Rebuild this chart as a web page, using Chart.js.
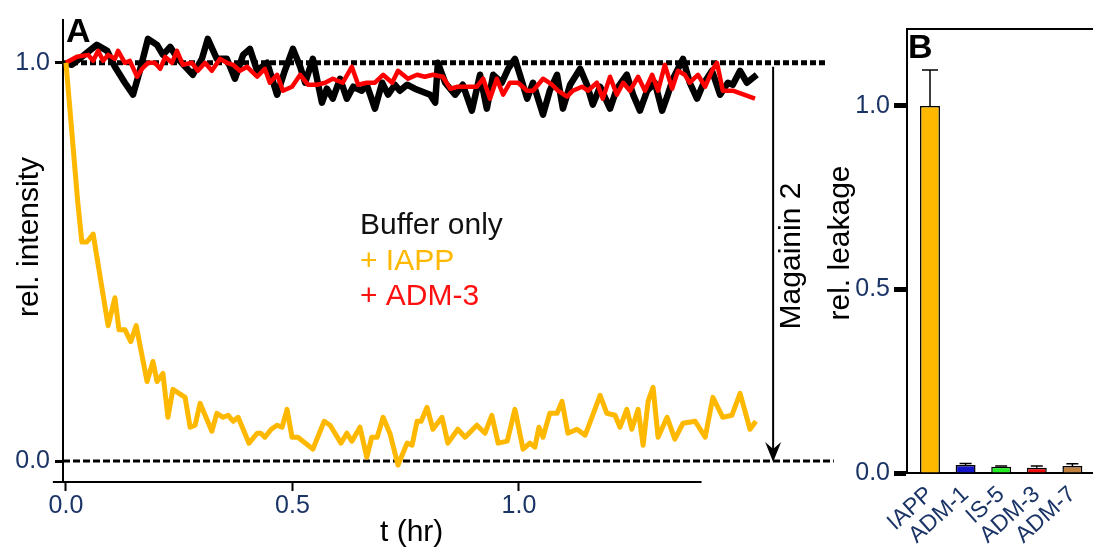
<!DOCTYPE html>
<html>
<head>
<meta charset="utf-8">
<script src="https://cdn.jsdelivr.net/npm/chart.js@4"></script>
<style>
  html, body { margin: 0; padding: 0; background: #fff; }
  #wrap { position: relative; width: 1093px; height: 548px; overflow: hidden; }
  #chartA { position: absolute; left: 0; top: 0; }
  #chartB { position: absolute; left: 800px; top: 0; }
</style>
</head>
<body>
<div id="wrap">
  <canvas id="chartA" width="850" height="548"></canvas>
  <canvas id="chartB" width="293" height="548"></canvas>
</div>
<script>
// ---- panel A: time courses (t in hr, relative intensity) ----
const tBuffer = [0, 0.013, 0.068, 0.091, 0.108, 0.130, 0.148, 0.163, 0.181, 0.201,
  0.214, 0.230, 0.247, 0.280, 0.300, 0.313, 0.333, 0.355, 0.373, 0.391,
  0.406, 0.422, 0.444, 0.466, 0.483, 0.501, 0.517, 0.528, 0.545, 0.565,
  0.576, 0.589, 0.605, 0.620, 0.634, 0.653, 0.664, 0.682, 0.698, 0.711,
  0.726, 0.737, 0.753, 0.770, 0.804, 0.815, 0.821, 0.837, 0.859, 0.876,
  0.896, 0.914, 0.929, 0.943, 0.962, 0.976, 0.991, 1.002, 1.018, 1.031,
  1.053, 1.068, 1.084, 1.097, 1.113, 1.135, 1.150, 1.163, 1.179, 1.201,
  1.216, 1.238, 1.252, 1.267, 1.283, 1.300, 1.316, 1.327, 1.340, 1.362,
  1.377, 1.393, 1.406, 1.426, 1.444, 1.461, 1.472, 1.488, 1.503, 1.525];
const vBuffer = [1.0, 0.995, 1.045, 1.03, 0.99, 0.95, 0.92, 0.98, 1.06, 1.045,
  1.02, 1.04, 1.01, 0.97, 1.01, 1.06, 1.01, 1.01, 0.96, 1.02,
  1.035, 0.98, 1.0, 0.92, 0.98, 1.035, 0.99, 0.95, 1.01, 0.90,
  0.935, 0.91, 0.96, 0.91, 0.94, 0.93, 0.945, 0.885, 0.95, 0.92,
  0.945, 0.93, 0.945, 0.935, 0.92, 0.90, 1.0, 0.95, 0.92, 0.945,
  0.88, 0.97, 0.885, 0.97, 0.95, 0.985, 1.01, 0.97, 0.91, 0.95,
  0.87, 0.93, 0.97, 0.885, 0.945, 0.985, 0.945, 0.895, 0.94, 0.885,
  0.935, 0.97, 0.92, 0.88, 0.93, 0.95, 0.88, 0.915, 0.96, 1.01,
  0.95, 0.91, 0.945, 0.98, 0.92, 0.95, 0.945, 0.98, 0.95, 0.97];

const tIAPP = [0, 0.026, 0.035, 0.046, 0.060, 0.093, 0.108, 0.117, 0.130, 0.143,
  0.155, 0.179, 0.192, 0.201, 0.214, 0.225, 0.236, 0.263, 0.274, 0.285,
  0.296, 0.322, 0.333, 0.347, 0.358, 0.369, 0.380, 0.404, 0.422, 0.430,
  0.439, 0.453, 0.466, 0.477, 0.488, 0.499, 0.512, 0.545, 0.570, 0.583,
  0.607, 0.620, 0.631, 0.649, 0.664, 0.675, 0.687, 0.700, 0.715, 0.733,
  0.753, 0.764, 0.775, 0.784, 0.797, 0.810, 0.830, 0.843, 0.865, 0.881,
  0.907, 0.925, 0.940, 0.954, 0.974, 0.991, 1.009, 1.024, 1.035, 1.044,
  1.053, 1.068, 1.084, 1.095, 1.108, 1.128, 1.146, 1.161, 1.179, 1.194,
  1.212, 1.223, 1.238, 1.249, 1.263, 1.274, 1.285, 1.296, 1.307, 1.327,
  1.344, 1.362, 1.389, 1.411, 1.428, 1.450, 1.470, 1.488, 1.510, 1.523];
const vIAPP = [1.0, 0.65, 0.55, 0.55, 0.57, 0.34, 0.41, 0.33, 0.33, 0.30,
  0.34, 0.20, 0.25, 0.20, 0.22, 0.11, 0.18, 0.16, 0.085, 0.09,
  0.145, 0.075, 0.12, 0.11, 0.115, 0.10, 0.11, 0.045, 0.07, 0.07,
  0.06, 0.08, 0.09, 0.085, 0.13, 0.06, 0.06, 0.03, 0.10, 0.09,
  0.045, 0.07, 0.05, 0.085, 0.01, 0.06, 0.06, 0.11, 0.07, -0.01,
  0.045, 0.04, 0.10, 0.10, 0.135, 0.08, 0.11, 0.045, 0.08, 0.06,
  0.09, 0.07, 0.115, 0.045, 0.05, 0.13, 0.03, 0.045, 0.035, 0.085,
  0.06, 0.12, 0.12, 0.15, 0.07, 0.08, 0.065, 0.11, 0.165, 0.12,
  0.115, 0.085, 0.13, 0.08, 0.13, 0.04, 0.15, 0.185, 0.06, 0.11,
  0.055, 0.095, 0.10, 0.06, 0.16, 0.11, 0.115, 0.17, 0.08, 0.10];

const tADM3 = [0, 0.024, 0.049, 0.060, 0.071, 0.082, 0.093, 0.108, 0.115, 0.130,
  0.141, 0.157, 0.168, 0.181, 0.196, 0.208, 0.219, 0.234, 0.245, 0.258,
  0.278, 0.291, 0.307, 0.322, 0.340, 0.355, 0.369, 0.384, 0.400, 0.422,
  0.439, 0.450, 0.466, 0.479, 0.499, 0.517, 0.534, 0.554, 0.572, 0.589,
  0.611, 0.631, 0.645, 0.664, 0.682, 0.700, 0.720, 0.733,
  0.755, 0.775, 0.792, 0.810, 0.832, 0.848, 0.865, 0.885, 0.907, 0.921,
  0.936, 0.951, 0.965, 0.980, 0.998, 1.018, 1.031, 1.053, 1.073, 1.086,
  1.106, 1.119, 1.139, 1.152, 1.172, 1.185, 1.201, 1.216, 1.230, 1.245,
  1.263, 1.278, 1.294, 1.307, 1.322, 1.338, 1.351, 1.366, 1.377, 1.395,
  1.411, 1.426, 1.437, 1.450, 1.472, 1.521];
const vADM3 = [1.0, 1.015, 1.02, 1.005, 1.03, 1.005, 1.02, 1.01, 1.03, 1.0,
  1.005, 0.965, 0.985, 1.0, 1.0, 0.985, 1.015, 1.0, 1.03, 0.995,
  1.0, 0.98, 1.0, 0.98, 1.01, 1.0, 0.995, 0.98, 0.99, 0.965,
  0.985, 0.95, 0.97, 0.93, 0.94, 0.97, 0.945, 0.945, 0.95, 0.96,
  0.95, 0.99, 0.945, 0.95, 0.95, 0.97, 0.95, 0.98,
  0.96, 0.97, 0.965, 0.97, 0.965, 0.935, 0.94, 0.94, 0.94, 0.96,
  0.91, 0.96, 0.92, 0.95, 0.95, 0.93, 0.93, 0.96, 0.945, 0.93,
  0.915, 0.93, 0.94, 0.93, 0.95, 0.91, 0.965, 0.92, 0.95, 0.93,
  0.965, 0.93, 0.97, 0.93, 0.995, 0.935, 0.98, 0.97, 0.95, 0.97,
  0.94, 0.98, 1.0, 0.93, 0.93, 0.91];

const xTicksA = [0, 0.5, 1.0];
const yTicksA = [0, 1.0];

// ---- panel B: relative leakage ----
const categories = ['IAPP', 'ADM-1', 'IS-5', 'ADM-3', 'ADM-7'];
const leakage = [1.0, 0.022, 0.017, 0.014, 0.019];
const leakageErr = [0.098, 0.004, 0.002, 0.005, 0.006];
const yTicksB = [0, 0.5, 1.0];

const FONT = "'Liberation Sans', Arial, sans-serif";
const NAVY = '#1b3466';
const barColors = ['#FFB800', '#1414C8', '#22EE22', '#EE0A0A', '#C08040'];

function toPoints(ts, vs) {
    return ts.map((t, i) => ({ x: t, y: vs[i] }));
}

function rotatedText(ctx, text, x, y, font, color) {
    ctx.save();
    ctx.translate(x, y);
    ctx.rotate(-Math.PI / 2);
    ctx.font = font;
    ctx.fillStyle = color;
    ctx.textAlign = 'center';
    ctx.textBaseline = 'alphabetic';
    ctx.fillText(text, 0, 0);
    ctx.restore();
}

const panelADecor = {
    id: 'panelADecor',
    afterDraw(chart) {
        const ctx = chart.ctx;
        const xs = chart.scales.x;
        const ys = chart.scales.y;
        const area = chart.chartArea;
        ctx.save();

        // x axis line only runs under the labelled range
        ctx.strokeStyle = '#000';
        ctx.lineWidth = 2;
        ctx.beginPath();
        ctx.moveTo(xs.getPixelForValue(-0.029), area.bottom);
        ctx.lineTo(xs.getPixelForValue(1.403), area.bottom);
        ctx.stroke();

        // Magainin 2 addition arrow
        const ax = xs.getPixelForValue(1.561);
        const top = ys.getPixelForValue(0.99);
        const tip = ys.getPixelForValue(0);
        ctx.beginPath();
        ctx.moveTo(ax, top);
        ctx.lineTo(ax, tip - 8);
        ctx.stroke();
        ctx.fillStyle = '#000';
        ctx.beginPath();
        ctx.moveTo(ax, tip + 1);
        ctx.lineTo(ax - 8, tip - 19);
        ctx.lineTo(ax, tip - 12);
        ctx.lineTo(ax + 8, tip - 19);
        ctx.closePath();
        ctx.fill();
        rotatedText(ctx, 'Magainin 2', 800, 256, '30px ' + FONT, '#000');

        // axis titles
        rotatedText(ctx, 'rel. intensity', 38, 237, '30px ' + FONT, '#000');
        ctx.font = '30px ' + FONT;
        ctx.fillStyle = '#000';
        ctx.textAlign = 'left';
        ctx.textBaseline = 'alphabetic';
        ctx.fillText('t (hr)', 380, 541);

        // panel letter
        ctx.font = 'bold 34px ' + FONT;
        ctx.fillText('A', 66, 42);

        // legend as coloured text
        ctx.font = '30px ' + FONT;
        ctx.fillStyle = '#111';
        ctx.fillText('Buffer only', 360, 234);
        ctx.fillStyle = '#FFB800';
        ctx.fillText('+ IAPP', 360, 270);
        ctx.fillStyle = '#FF1010';
        ctx.fillText('+ ADM-3', 360, 305);
        ctx.restore();
    }
};

const panelBDecor = {
    id: 'panelBDecor',
    afterDatasetsDraw(chart) {
        const ctx = chart.ctx;
        const xs = chart.scales.x;
        const ys = chart.scales.y;
        ctx.save();
        ctx.strokeStyle = '#000';
        ctx.lineWidth = 1.5;
        leakage.forEach((v, i) => {
            const px = xs.getPixelForValue(i);
            const yTop = ys.getPixelForValue(v + leakageErr[i]);
            const yBar = ys.getPixelForValue(v);
            const cap = i === 0 ? 8 : 6;
            ctx.beginPath();
            ctx.moveTo(px, yBar);
            ctx.lineTo(px, yTop);
            ctx.moveTo(px - cap, yTop);
            ctx.lineTo(px + cap, yTop);
            ctx.stroke();
        });
        ctx.restore();
    },
    afterDraw(chart) {
        const ctx = chart.ctx;
        const area = chart.chartArea;
        ctx.save();
        ctx.strokeStyle = '#000';
        ctx.lineWidth = 2;
        ctx.beginPath();
        ctx.moveTo(area.left, area.top);
        ctx.lineTo(area.right, area.top);
        ctx.stroke();
        ctx.fillStyle = '#000';
        ctx.font = 'bold 34px ' + FONT;
        ctx.textAlign = 'left';
        ctx.textBaseline = 'alphabetic';
        ctx.fillText('B', 108, 58);
        rotatedText(ctx, 'rel. leakage', 49, 243, '30px ' + FONT, '#000');
        ctx.restore();
    }
};

const chartA = new Chart(document.getElementById('chartA'), {
    type: 'line',
    data: {
        datasets: [
            { data: toPoints(tIAPP, vIAPP), borderColor: '#FFB800', borderWidth: 5 },
            { data: toPoints(tADM3, vADM3), borderColor: '#FF0000', borderWidth: 4.5 },
            { data: toPoints(tBuffer, vBuffer), borderColor: '#000', borderWidth: 6.5 },
            { data: [{ x: -0.0066, y: 1 }, { x: 1.68, y: 1 }], borderColor: '#000', borderWidth: 5, borderDash: [6, 3] },
            { data: [{ x: -0.0066, y: 0 }, { x: 1.695, y: 0 }], borderColor: '#000', borderWidth: 3, borderDash: [7, 3] }
        ]
    },
    options: {
        responsive: false,
        animation: false,
        elements: { point: { radius: 0 }, line: { tension: 0, fill: false, borderJoinStyle: 'round' } },
        layout: { padding: { left: 0, right: 15, top: 18, bottom: 0 } },
        plugins: { legend: { display: false }, tooltip: { enabled: false } },
        scales: {
            x: {
                type: 'linear',
                min: -0.0066,
                max: 1.6976,
                afterBuildTicks: axis => { axis.ticks = xTicksA.map(v => ({ value: v })); },
                afterFit: axis => { axis.height = 66; },
                ticks: {
                    callback: v => v.toFixed(1),
                    font: { family: FONT, size: 25 },
                    color: NAVY,
                    padding: 0,
                    maxRotation: 0
                },
                grid: { drawOnChartArea: false, drawTicks: true, tickLength: 9, tickWidth: 2, tickColor: '#000' },
                border: { display: false }
            },
            y: {
                min: -0.0525,
                max: 1.1075,
                afterBuildTicks: axis => { axis.ticks = yTicksA.map(v => ({ value: v })); },
                afterFit: axis => { axis.width = 63; },
                ticks: {
                    callback: v => v.toFixed(1),
                    font: { family: FONT, size: 25 },
                    color: NAVY,
                    padding: 5
                },
                grid: { drawOnChartArea: false, drawTicks: true, tickLength: 8, tickWidth: 3, tickColor: '#000' },
                border: { display: true, color: '#000', width: 2 }
            }
        }
    },
    plugins: [panelADecor]
});

const chartB = new Chart(document.getElementById('chartB'), {
    type: 'bar',
    data: {
        datasets: [{
            data: categories.map((c, i) => ({ x: i, y: leakage[i] })),
            backgroundColor: barColors,
            borderColor: '#000',
            borderWidth: 1.5,
            categoryPercentage: 0.8,
            barPercentage: 0.7
        }]
    },
    options: {
        responsive: false,
        animation: false,
        layout: { padding: { left: 0, right: 0, top: 29, bottom: 0 } },
        plugins: { legend: { display: false }, tooltip: { enabled: false } },
        scales: {
            x: {
                type: 'linear',
                offset: false,
                min: -0.646,
                max: 4.579,
                afterBuildTicks: axis => { axis.ticks = categories.map((c, i) => ({ value: i })); },
                afterFit: axis => { axis.height = 75; },
                ticks: {
                    callback: v => categories[v],
                    autoSkip: false,
                    minRotation: 42,
                    maxRotation: 42,
                    padding: 0,
                    font: { family: FONT, size: 23 },
                    color: NAVY
                },
                grid: { display: false, offset: false },
                border: { display: true, color: '#000', width: 2 }
            },
            y: {
                min: 0,
                max: 1.2098,
                afterBuildTicks: axis => { axis.ticks = yTicksB.map(v => ({ value: v })); },
                afterFit: axis => { axis.width = 107; },
                ticks: {
                    callback: v => v.toFixed(1),
                    font: { family: FONT, size: 25 },
                    color: NAVY,
                    padding: 4
                },
                grid: { drawOnChartArea: false, drawTicks: true, tickLength: 13, tickWidth: 5, tickColor: '#000' },
                border: { display: true, color: '#000', width: 2 }
            }
        }
    },
    plugins: [panelBDecor]
});
</script>
</body>
</html>
